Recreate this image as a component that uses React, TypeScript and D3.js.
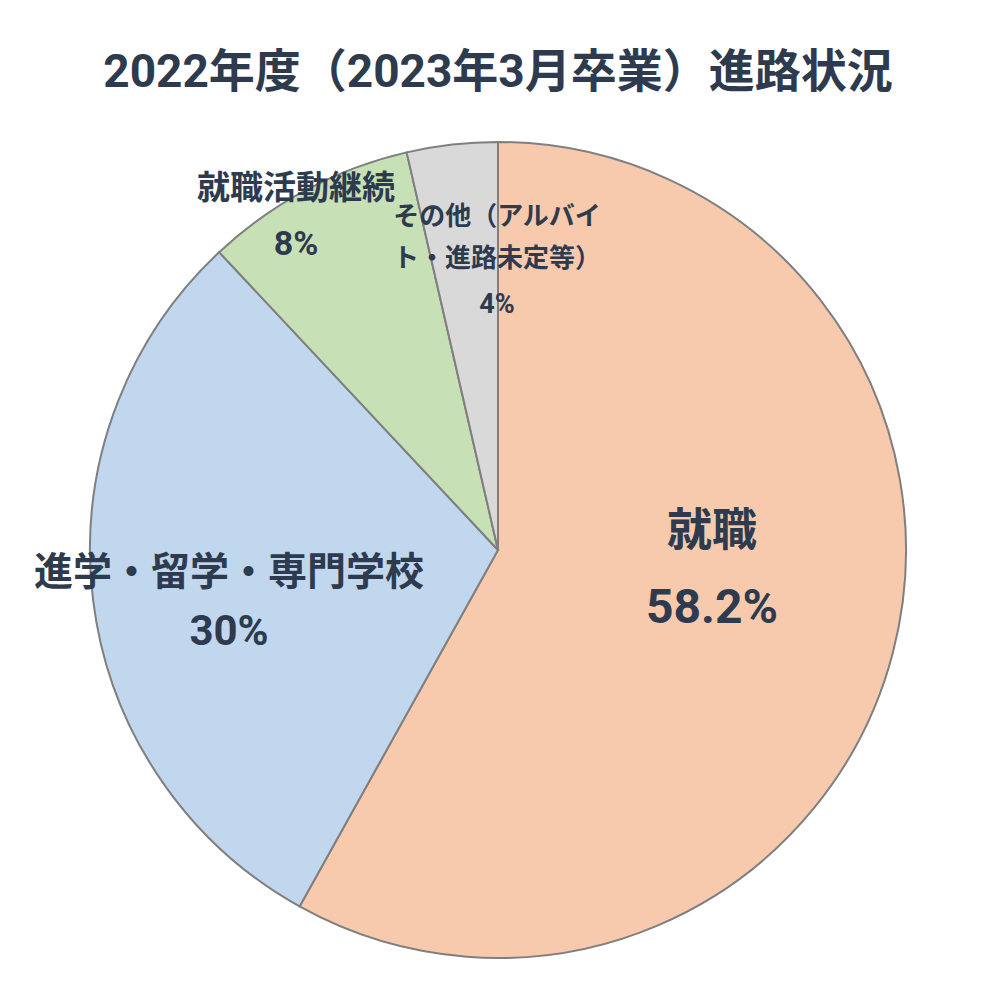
import React from "react";
import * as d3 from "d3";

const categories = ["就職", "進学・留学・専門学校", "就職活動継続", "その他（アルバイト・進路未定等）"];
const values = [58.2, 30, 8.4, 3.6];
const valueLabels = ["58.2%", "30%", "8%", "4%"];
const colors = ["#f8caad", "#c1d7ee", "#c7e0b5", "#d9d9da"];
const title = "2022年度（2023年3月卒業）進路状況";

const W = 1000, H = 1000;
const cx = 498, cy = 550, R = 408;
const textColor = "#2e3b4e";
const font = "Roboto, 'Noto Sans CJK JP', 'Noto Sans', sans-serif";

// label layout: lines per category, position, font sizes
const labelLayout = [
  { lines: [categories[0]], x: 712, y: [546], size: 45, vSize: 48, vy: 623 },
  { lines: [categories[1]], x: 229, y: [585], size: 39, vSize: 42, vy: 645 },
  { lines: [categories[2]], x: 296, y: [199], size: 33, vSize: 34, vy: 255 },
  { lines: ["その他（アルバイ", "ト・進路未定等）"], x: 497, y: [225, 267], size: 26, vSize: 27, vy: 313 },
];

export default function App() {
  const pie = d3.pie<number>().sort(null).value((d) => d);
  const arcs = pie(values);
  const arc = d3.arc<d3.PieArcDatum<number>>().innerRadius(0).outerRadius(R);
  return (
    <svg width={W} height={H} style={{ display: "block", position: "absolute", left: 0, top: 0, background: "#fff" }}>
      <rect width={W} height={H} fill="#fff" />
      <text x={498} y={87} textAnchor="middle" fontFamily={font} fontWeight={700} fontSize={46} fill={textColor}>
        {title}
      </text>
      <g transform={`translate(${cx},${cy})`}>
        {arcs.map((a, i) => (
          <path key={i} d={arc(a) || ""} fill={colors[i]} stroke="#7f7f7f" strokeWidth={2} strokeLinejoin="round" />
        ))}
      </g>
      {labelLayout.map((l, i) => (
        <g key={i} fontFamily={font} fontWeight={700} fill={textColor} textAnchor="middle">
          {l.lines.map((t, j) => (
            <text key={j} x={l.x} y={l.y[j]} fontSize={l.size}>{t}</text>
          ))}
          <text x={l.x} y={l.vy} fontSize={l.vSize}>{valueLabels[i]}</text>
        </g>
      ))}
    </svg>
  );
}
